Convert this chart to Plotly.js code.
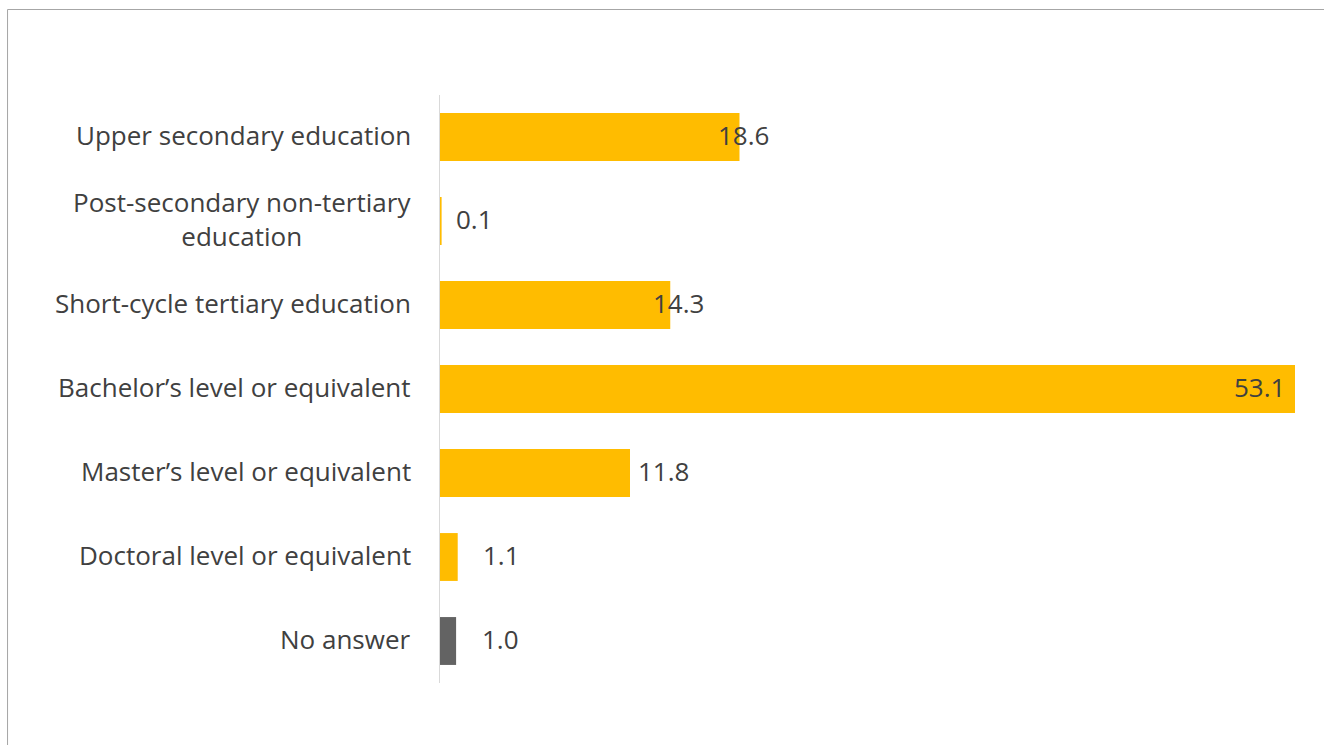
<!DOCTYPE html>
<html>
<head>
<meta charset="utf-8">
<script src="https://cdn.plot.ly/plotly-3.0.1.min.js"></script>
<style>
  html, body { margin: 0; padding: 0; background: #fff; }
  #chart { width: 1324px; height: 745px; }
</style>
</head>
<body>
<div id="chart"></div>
<script>
// Data
const categories = [
  "Upper secondary education",
  "Post-secondary non-tertiary<br>education",
  "Short-cycle tertiary education",
  "Bachelor’s level or equivalent",
  "Master’s level or equivalent",
  "Doctoral level or equivalent",
  "No answer"
];
const values = [18.6, 0.1, 14.3, 53.1, 11.8, 1.1, 1.0];
const valueLabels = ["18.6", "0.1", "14.3", "53.1", "11.8", "1.1", "1.0"];

// Styling
const barColors = ["#FFBC00", "#FFBC00", "#FFBC00", "#FFBC00", "#FFBC00", "#FFBC00", "#636363"];
const labelShift = [-23, 12, -19, -8, 6, 23, 24];
const labelAnchor = ["left", "left", "left", "right", "left", "left", "left"];
const textColor = "#404040";
const fontFamily = "'Open Sans', 'Noto Sans', sans-serif";
const fontSize = 26;

const trace = {
  type: "bar",
  orientation: "h",
  x: values,
  y: categories,
  marker: { color: barColors },
  width: 0.57,
  hoverinfo: "x+y",
  showlegend: false
};

const annotations = [];
categories.forEach((c, i) => {
  annotations.push({
    xref: "paper", yref: "y", x: 0, y: c,
    xanchor: "right", yanchor: "middle",
    xshift: -27, yshift: 2, align: "center",
    text: c, showarrow: false,
    font: { family: fontFamily, size: fontSize, color: textColor }
  });
  annotations.push({
    xref: "x", yref: "y", x: values[i], y: c,
    xanchor: labelAnchor[i], yanchor: "middle",
    xshift: labelShift[i], yshift: 2,
    text: valueLabels[i], showarrow: false,
    font: { family: fontFamily, size: fontSize, color: textColor }
  });
});

const layout = {
  width: 1324, height: 745,
  margin: { l: 440, r: 29, t: 95, b: 62, pad: 0 },
  paper_bgcolor: "#ffffff",
  plot_bgcolor: "#ffffff",
  font: { family: fontFamily, size: fontSize, color: textColor },
  xaxis: {
    range: [0, 53.1],
    showgrid: false, zeroline: false, showline: false,
    showticklabels: false, ticks: ""
  },
  yaxis: {
    type: "category",
    categoryorder: "array",
    categoryarray: categories,
    autorange: "reversed",
    showgrid: false, zeroline: false,
    showline: true, linecolor: "#D9D9D9", linewidth: 1.5,
    showticklabels: false, ticks: ""
  },
  annotations: annotations,
  shapes: [{
    type: "path", xref: "paper", yref: "paper",
    path: "M -0.5058 -0.2 L -0.5058 1.1454 L 1.05 1.1454",
    line: { color: "#A6A6A6", width: 1 }
  }]
};

Plotly.newPlot("chart", [trace], layout, { displayModeBar: false, staticPlot: true });
</script>
</body>
</html>
